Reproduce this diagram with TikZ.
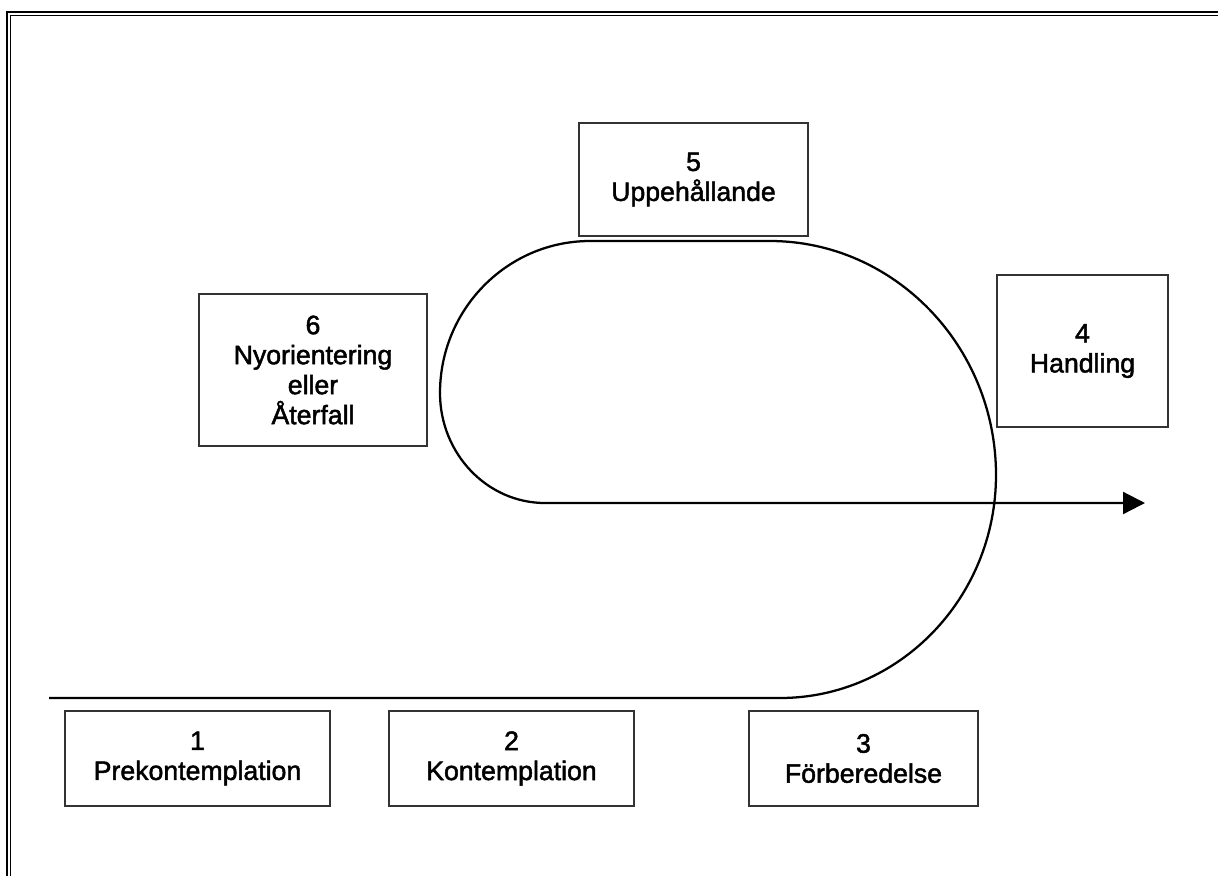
\documentclass[tikz,border=0pt]{standalone}
\usepackage{fontspec}
\setmainfont{Liberation Sans}
\newfontfamily\boxfont[FakeBold=1.8]{Liberation Sans}
\usetikzlibrary{arrows.meta}
\tikzset{
  stagebox/.style={draw=black!80, line width=0.8pt, inner sep=0pt, outer sep=0pt,
    align=center, font=\boxfont\fontsize{20}{22.5}\selectfont},
  loopline/.style={line width=1.7pt, black},
}
\begin{document}
\begin{tikzpicture}[x=0.75pt,y=-0.75pt]
\useasboundingbox (0,0) rectangle (1218,876);
% page border (double line)
\draw[line width=1.6pt] (1218,12) -- (7,12) -- (7,876);
\draw[line width=0.75pt] (1218,15) -- (10,15) -- (10,876);
% boxes
\node[stagebox, minimum width=171.75pt, minimum height=84.75pt] (s5) at (693.5,179.5) {5\\Uppehållande};
\node[stagebox, minimum width=171pt, minimum height=114pt] (s6) at (313,370) {6\\Nyorientering\\eller\\Återfall};
\node[stagebox, minimum width=128.25pt, minimum height=114pt] (s4) at (1082.5,351) {4\\Handling};
\node[stagebox, minimum width=198.75pt, minimum height=71.25pt] (s1) at (197.5,758.5) {1\\Prekontemplation};
\node[stagebox, minimum width=183.75pt, minimum height=71.25pt] (s2) at (511.5,758.5) {2\\Kontemplation};
\node[stagebox, minimum width=171.75pt, minimum height=71.25pt] (s3) at (863.5,758.5) {3\\Förberedelse};
% loop path
\coordinate (start) at (49,698);
\coordinate (tip) at (1145,503);
\draw[loopline, -{Triangle[length=16.5pt,width=16.5pt]}]
  (start) -- (780,698)
  .. controls (899,698) and (996,598) .. (996,475)
  .. controls (996,346) and (894,241) .. (770,241)
  -- (590,241)
  .. controls (507.5,241) and (440,309) .. (440,393)
  .. controls (440,453.5) and (487,503) .. (545,503)
  -- (tip);
\end{tikzpicture}
\end{document}
